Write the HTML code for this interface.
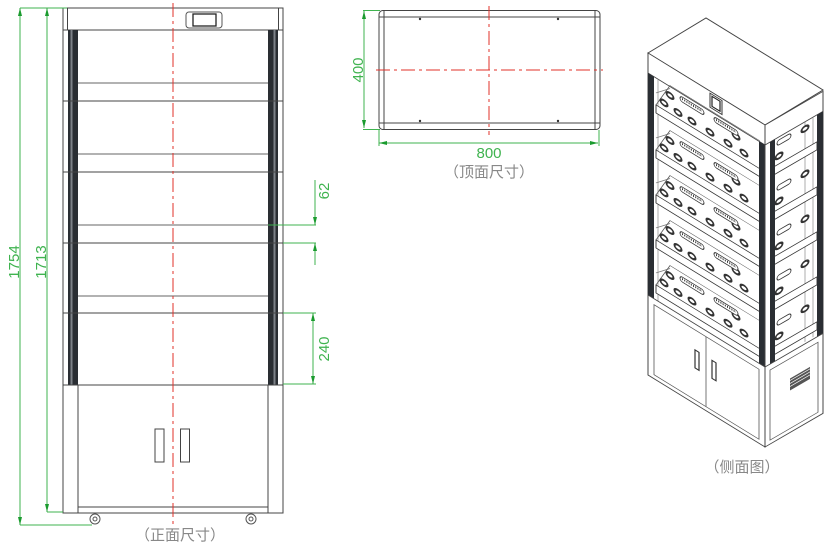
<!DOCTYPE html>
<html><head><meta charset="utf-8"><style>
html,body{margin:0;padding:0;background:#fff;width:835px;height:543px;overflow:hidden}
svg{display:block}
text{font-family:"Liberation Sans","Noto Sans CJK SC",sans-serif}
</style></head><body>
<svg width="835" height="543" viewBox="0 0 835 543" xmlns="http://www.w3.org/2000/svg">
<defs>
<g id="fshelf">
  <path d="M8 0 L112 0 L112 8 L8 8 Z" fill="#fff" stroke="#333" stroke-width="0.9"/>
  <path d="M8 0 L22 -28 L112 -28" fill="none" stroke="#555" stroke-width="0.6"/>
  <g fill="#fff" stroke="#333" stroke-width="2">
    <ellipse cx="16" cy="-7" rx="3.5" ry="2.5"/><ellipse cx="30" cy="-6" rx="3.5" ry="2.5"/>
    <ellipse cx="44" cy="-6" rx="3.5" ry="2.5"/><ellipse cx="62" cy="-6" rx="3.5" ry="2.5"/>
    <ellipse cx="80" cy="-6" rx="3.5" ry="2.5"/><ellipse cx="96" cy="-6" rx="3.5" ry="2.5"/>
    <ellipse cx="22" cy="-18" rx="3.5" ry="2.5"/><ellipse cx="88" cy="-18" rx="3.5" ry="2.5"/>
  </g>
  <rect x="32" y="-24" width="24" height="5" rx="2.5" fill="#fff" stroke="#333" stroke-width="0.9"/>
  <rect x="66" y="-24" width="24" height="5" rx="2.5" fill="#fff" stroke="#333" stroke-width="0.9"/>
  <path d="M34 -22 h20 M68 -22 h20" stroke="#333" stroke-width="1.8" stroke-dasharray="1 1.2"/>
</g>
<g id="rshelf">
  <path d="M8 0 L52 0 L52 8 L8 8 Z" fill="#fff" stroke="#333" stroke-width="0.9"/>
  <g fill="#fff" stroke="#333" stroke-width="2">
    <ellipse cx="14" cy="-8" rx="3.5" ry="2.5"/><ellipse cx="40" cy="-20" rx="3.5" ry="2.5"/>
  </g>
  <rect x="12" y="-24" width="14" height="5" rx="2.5" fill="#fff" stroke="#333" stroke-width="0.9"/>
</g>
</defs>

<!-- ================= FRONT VIEW ================= -->
<g stroke="#444" fill="none" stroke-width="1">
  <rect x="63" y="8" width="220" height="505"/>
  <rect x="67.5" y="8" width="211" height="22"/>
  <line x1="63" y1="30" x2="283" y2="30"/>
</g>
<rect x="68" y="30" width="10" height="355" fill="#2a2e33"/>
<rect x="70.5" y="30" width="2" height="355" fill="#7d8288"/>
<rect x="268" y="30" width="10" height="355" fill="#2a2e33"/>
<rect x="273.5" y="30" width="2" height="355" fill="#7d8288"/>
<g stroke="#444" stroke-width="1">
  <line x1="63" y1="101" x2="283" y2="101"/>
  <line x1="63" y1="172" x2="283" y2="172"/>
  <line x1="63" y1="243" x2="283" y2="243"/>
  <line x1="63" y1="313" x2="283" y2="313"/>
  <line x1="63" y1="385" x2="283" y2="385"/>
</g>
<g stroke="#666" stroke-width="1">
  <line x1="78" y1="83" x2="268" y2="83"/>
  <line x1="78" y1="154" x2="268" y2="154"/>
  <line x1="78" y1="225" x2="268" y2="225"/>
  <line x1="78" y1="296" x2="268" y2="296"/>
</g>
<rect x="186" y="12" width="36" height="16" rx="3" fill="#fff" stroke="#555"/>
<rect x="193" y="14" width="23" height="12" fill="#fff" stroke="#222" stroke-width="1.3"/>
<g stroke="#444" fill="none" stroke-width="1">
  <rect x="78" y="385" width="190" height="122"/>
  <rect x="78" y="507" width="190" height="6"/>
  <rect x="155" y="429" width="9" height="33"/>
  <rect x="180.5" y="429" width="9" height="33"/>
</g>
<g fill="#fff" stroke="#555" stroke-width="1">
  <circle cx="95" cy="519" r="5"/><circle cx="95" cy="519" r="2"/>
  <circle cx="251" cy="519" r="5"/><circle cx="251" cy="519" r="2"/>
</g>
<line x1="173" y1="3" x2="173" y2="524" stroke="#e0302a" stroke-width="1" stroke-dasharray="14 4 3 4"/>

<g stroke="#3fb34f" stroke-width="1" fill="none">
  <line x1="20" y1="8" x2="67" y2="8"/>
  <line x1="20" y1="8" x2="20" y2="525"/>
  <line x1="20" y1="525" x2="92" y2="525"/>
  <line x1="47" y1="8" x2="47" y2="512"/>
  <line x1="47" y1="512" x2="63" y2="512"/>
  <line x1="268" y1="225" x2="316" y2="225"/>
  <line x1="283" y1="243" x2="316" y2="243"/>
  <line x1="315" y1="180" x2="315" y2="225"/>
  <line x1="315" y1="243" x2="315" y2="265"/>
  <line x1="283" y1="313" x2="316" y2="313"/>
  <line x1="283" y1="384" x2="316" y2="384"/>
  <line x1="313" y1="313" x2="313" y2="384"/>
</g>
<g fill="#1a9b2e">
  <path d="M20 8 l-2 8 h4 z"/><path d="M20 525 l-2 -8 h4 z"/>
  <path d="M47 8 l-2 8 h4 z"/><path d="M47 512 l-2 -8 h4 z"/>
  <path d="M315 225 l-2 -8 h4 z"/><path d="M315 243 l-2 8 h4 z"/>
  <path d="M313 313 l-2 8 h4 z"/><path d="M313 384 l-2 -8 h4 z"/>
</g>
<g fill="#3fb34f" font-size="15">
  <text transform="translate(19,262) rotate(-90)" text-anchor="middle">1754</text>
  <text transform="translate(46,262) rotate(-90)" text-anchor="middle">1713</text>
  <text transform="translate(329,191) rotate(-90)" text-anchor="middle">62</text>
  <text transform="translate(329,349) rotate(-90)" text-anchor="middle">240</text>
</g>
<text x="180" y="540" font-size="15" fill="#888" text-anchor="middle">（正面尺寸）</text>

<!-- ================= TOP VIEW ================= -->
<g stroke="#444" fill="none" stroke-width="1">
  <rect x="379" y="10.5" width="221" height="119" rx="4"/>
  <line x1="379" y1="17" x2="600" y2="17"/>
  <line x1="379" y1="123" x2="600" y2="123"/>
  <line x1="384" y1="10.5" x2="384" y2="129.5"/>
  <line x1="595" y1="10.5" x2="595" y2="129.5"/>
</g>
<g fill="#333"><circle cx="420" cy="19" r="1.2"/><circle cx="558" cy="19" r="1.2"/><circle cx="420" cy="121" r="1.2"/><circle cx="558" cy="121" r="1.2"/></g>
<g stroke="#e0302a" stroke-width="1" stroke-dasharray="14 4 3 4">
  <line x1="376" y1="70" x2="603" y2="70"/>
  <line x1="489" y1="6" x2="489" y2="135"/>
</g>
<g stroke="#3fb34f" stroke-width="1" fill="none">
  <line x1="363" y1="10.5" x2="380" y2="10.5"/>
  <line x1="363" y1="129.5" x2="380" y2="129.5"/>
  <line x1="364" y1="11" x2="364" y2="128"/>
  <line x1="379" y1="130" x2="379" y2="146"/>
  <line x1="599" y1="130" x2="599" y2="146"/>
  <line x1="379" y1="143" x2="598" y2="143"/>
</g>
<g fill="#1a9b2e">
  <path d="M364 11 l-2 8 h4 z"/><path d="M364 128 l-2 -8 h4 z"/>
  <path d="M379 143 l8 -2 v4 z"/><path d="M598 143 l-8 -2 v4 z"/>
</g>
<g fill="#3fb34f" font-size="15">
  <text transform="translate(363,70) rotate(-90)" text-anchor="middle">400</text>
  <text x="489" y="158" text-anchor="middle">800</text>
</g>
<text x="489" y="177" font-size="15" fill="#888" text-anchor="middle">（顶面尺寸）</text>

<!-- ================= ISOMETRIC ================= -->
<path d="M648 53 L706 18 L823 90 L765 125 Z" fill="#fff" stroke="#444" stroke-width="1"/>
<g transform="matrix(1,0.615,0,1,648,53)">
  <rect x="0" y="0" width="117" height="322" fill="#fff" stroke="#444" stroke-width="1"/>
  <line x1="0" y1="20" x2="117" y2="20" stroke="#444"/>
  <line x1="10" y1="20" x2="10" y2="242" stroke="#888" stroke-width="0.7"/>
  <g stroke="#777" stroke-width="0.6">
    <line x1="8" y1="35" x2="22" y2="22"/><line x1="8" y1="80" x2="22" y2="67"/>
    <line x1="8" y1="125" x2="22" y2="112"/><line x1="8" y1="170" x2="22" y2="157"/>
    <line x1="8" y1="215" x2="22" y2="202"/>
  </g>
  <use href="#fshelf" transform="translate(0,47)"/>
  <use href="#fshelf" transform="translate(0,92)"/>
  <use href="#fshelf" transform="translate(0,137)"/>
  <use href="#fshelf" transform="translate(0,182)"/>
  <use href="#fshelf" transform="translate(0,227)"/>
  <rect x="62" y="2" width="12" height="14" fill="#fff" stroke="#333"/>
  <rect x="64" y="4" width="8" height="10" fill="#fff" stroke="#222" stroke-width="1.2"/>
  <rect x="0" y="20" width="6" height="222" fill="#2a2e33"/>
  <rect x="111" y="20" width="6" height="222" fill="#2a2e33"/>
  <line x1="0" y1="242" x2="117" y2="242" stroke="#444"/>
  <rect x="6" y="248" width="105" height="70" fill="none" stroke="#555" stroke-width="0.8"/>
  <line x1="58" y1="248" x2="58" y2="318" stroke="#555" stroke-width="0.8"/>
  <rect x="47" y="268" width="4" height="18" fill="#fff" stroke="#333" stroke-width="1.2"/>
  <rect x="64" y="268" width="4" height="18" fill="#fff" stroke="#333" stroke-width="1.2"/>
</g>
<g transform="matrix(1,-0.58,0,1,765,125)">
  <rect x="0" y="0" width="58" height="322" fill="#fff" stroke="#444" stroke-width="1"/>
  <line x1="0" y1="20" x2="58" y2="20" stroke="#444"/>
  <g stroke="#777" stroke-width="0.6">
    <line x1="40" y1="20" x2="40" y2="240"/><line x1="48" y1="20" x2="48" y2="240"/>
  </g>
  <use href="#rshelf" transform="translate(0,47)"/>
  <use href="#rshelf" transform="translate(0,92)"/>
  <use href="#rshelf" transform="translate(0,137)"/>
  <use href="#rshelf" transform="translate(0,182)"/>
  <use href="#rshelf" transform="translate(0,227)"/>
  <rect x="5" y="20" width="5" height="222" fill="#2a2e33"/>
  <rect x="52" y="20" width="6" height="222" fill="#2a2e33"/>
  <line x1="0" y1="242" x2="58" y2="242" stroke="#444"/>
  <rect x="5" y="248" width="48" height="70" fill="none" stroke="#555" stroke-width="0.8"/>
  <rect x="25" y="268" width="20" height="12" fill="#555"/>
  <path d="M25 270 h20 M25 273 h20 M25 276 h20" stroke="#fff" stroke-width="0.8"/>
</g>
<text x="742" y="472" font-size="15" fill="#888" text-anchor="middle">（侧面图）</text>
</svg>
</body></html>
